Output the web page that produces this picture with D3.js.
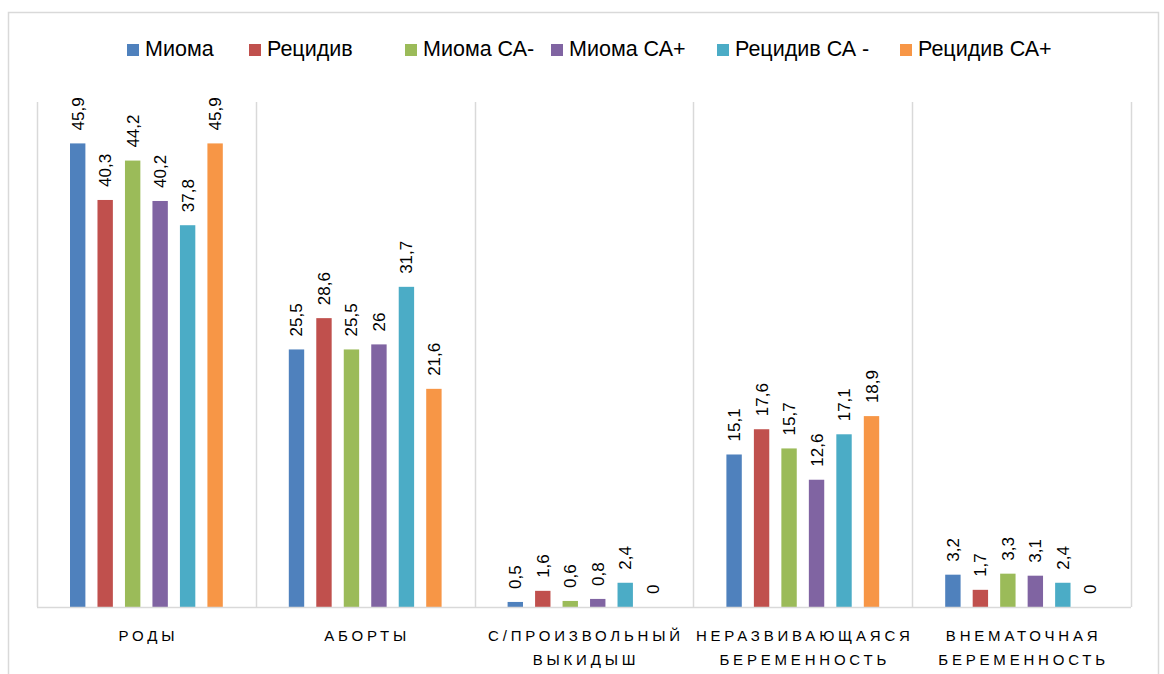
<!DOCTYPE html>
<html>
<head>
<meta charset="utf-8">
<script src="https://cdn.jsdelivr.net/npm/d3@7"></script>
<style>
  html, body { margin: 0; padding: 0; background: #fff; }
  svg { display: block; }
</style>
</head>
<body>
<svg id="chart" width="1164" height="674"></svg>
<script>
// Pregnancy outcome shares (%) per patient group
const categories = [
  ["РОДЫ"],
  ["АБОРТЫ"],
  ["С/ПРОИЗВОЛЬНЫЙ", "ВЫКИДЫШ"],
  ["НЕРАЗВИВАЮЩАЯСЯ", "БЕРЕМЕННОСТЬ"],
  ["ВНЕМАТОЧНАЯ", "БЕРЕМЕННОСТЬ"]
];
const seriesNames = ["Миома", "Рецидив", "Миома СА-", "Миома СА+", "Рецидив СА -", "Рецидив СА+"];
const miomaValues        = [45.9, 25.5, 0.5, 15.1, 3.2];
const retsidivValues     = [40.3, 28.6, 1.6, 17.6, 1.7];
const miomaCaMinus       = [44.2, 25.5, 0.6, 15.7, 3.3];
const miomaCaPlus        = [40.2, 26, 0.8, 12.6, 3.1];
const retsidivCaMinus    = [37.8, 31.7, 2.4, 17.1, 2.4];
const retsidivCaPlus     = [45.9, 21.6, 0, 18.9, 0];
const seriesValues = [miomaValues, retsidivValues, miomaCaMinus, miomaCaPlus, retsidivCaMinus, retsidivCaPlus];
const colors = ["#4F81BD", "#C0504D", "#9BBB59", "#8064A2", "#4BACC6", "#F79646"];

const svg = d3.select("#chart");
const plot = { left: 37, right: 1131, top: 102, bottom: 607 };

// chart frame
svg.append("rect")
  .attr("x", 8.5).attr("y", 12.5)
  .attr("width", 1150).attr("height", 700)
  .attr("fill", "#fff").attr("stroke", "#D9D9D9").attr("stroke-width", 1.5);

const x0 = d3.scaleBand()
  .domain(d3.range(categories.length))
  .range([plot.left, plot.right])
  .paddingInner(0).paddingOuter(0);

const x1 = d3.scaleBand()
  .domain(d3.range(seriesNames.length))
  .range([33, x0.bandwidth() - 33])
  .paddingInner(0.44).paddingOuter(0);

const y = d3.scaleLinear().domain([0, 50]).range([plot.bottom, plot.top]);

// vertical category gridlines
const gridX = d3.range(categories.length + 1).map(i => plot.left + i * x0.bandwidth());
svg.append("g").selectAll("line").data(gridX).join("line")
  .attr("x1", d => Math.round(d) + 0.5).attr("x2", d => Math.round(d) + 0.5)
  .attr("y1", plot.top).attr("y2", plot.bottom)
  .attr("stroke", "#D9D9D9").attr("stroke-width", 1.5);

// bars with rotated value labels
const groups = svg.append("g").selectAll("g").data(categories).join("g")
  .attr("transform", (d, i) => `translate(${x0(i)},0)`);

groups.each(function(cat, ci) {
  const g = d3.select(this);
  seriesValues.forEach((vals, si) => {
    const v = vals[ci];
    g.append("rect")
      .attr("x", x1(si)).attr("width", x1.bandwidth())
      .attr("y", y(v)).attr("height", plot.bottom - y(v))
      .attr("fill", colors[si]);
    const cx = x1(si) + x1.bandwidth() / 2;
    const ly = y(v) - 13;
    g.append("text")
      .attr("transform", `translate(${cx + 6},${ly}) rotate(-90)`)
      .attr("font-family", "Liberation Sans, Arial, sans-serif")
      .attr("font-size", 17)
      .attr("fill", "#000")
      .text(String(v).replace(".", ","));
  });
});

// baseline
svg.append("line")
  .attr("x1", plot.left).attr("x2", plot.right)
  .attr("y1", plot.bottom + 0.5).attr("y2", plot.bottom + 0.5)
  .attr("stroke", "#D9D9D9").attr("stroke-width", 1.5);

// category labels
groups.each(function(cat, ci) {
  const g = d3.select(this);
  const t = g.append("text")
    .attr("text-anchor", "middle")
    .attr("font-family", "Liberation Sans, Arial, sans-serif")
    .attr("font-size", 15)
    .attr("letter-spacing", "3.8px")
    .attr("fill", "#000");
  cat.forEach((line, li) => {
    t.append("tspan")
      .attr("x", x0.bandwidth() / 2 + 2)
      .attr("y", 641 + li * 24)
      .text(line);
  });
});

// legend
const legendX = [127, 249, 405, 551, 717, 900];
const legend = svg.append("g").selectAll("g").data(seriesNames).join("g")
  .attr("transform", (d, i) => `translate(${legendX[i]},43)`);
legend.append("rect")
  .attr("width", 12).attr("height", 12).attr("y", 1)
  .attr("fill", (d, i) => colors[i]);
legend.append("text")
  .attr("x", 18).attr("y", 13)
  .attr("font-family", "Liberation Sans Narrow, Liberation Sans, sans-serif")
  .attr("font-size", 21.5)
  .attr("fill", "#000")
  .text(d => d);
</script>
</body>
</html>
